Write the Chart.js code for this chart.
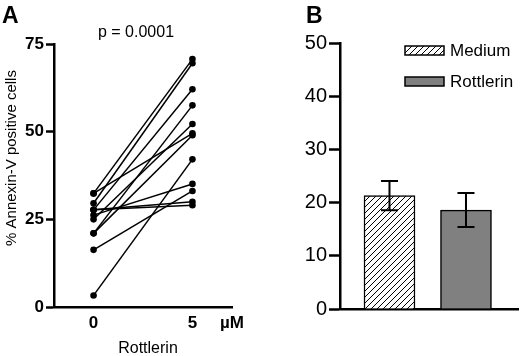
<!DOCTYPE html>
<html>
<head>
<meta charset="utf-8">
<script src="https://cdn.jsdelivr.net/npm/chart.js@4.4.0/dist/chart.umd.min.js"></script>
<style>
    html, body { margin: 0; padding: 0; background: #fff; }
    #wrap { position: relative; width: 520px; height: 356px; overflow: hidden; }
    canvas { position: absolute; top: 0; }
    #chart-a { left: 0; }
    #chart-b { left: 260px; }
</style>
</head>
<body>
<div id="wrap">
    <canvas id="chart-a" width="260" height="356"></canvas>
    <canvas id="chart-b" width="260" height="356"></canvas>
</div>
<script>
// Panel A: % Annexin-V positive cells, paired (one line per donor)
const doses = [0, 5];
const doseTickLabels = ["0", "5", "µM"];
const annexinBefore = [32.4, 32.4, 29.6, 27.7, 27.7, 27.7, 26.2, 25.0, 21.0, 21.0, 16.3, 3.3];
const annexinAfter = [49.5, 70.7, 69.5, 62.1, 29.0, 30.0, 35.1, 52.2, 57.5, 49.0, 33.1, 42.1];
const yTicksA = [0, 25, 50, 75];

// Panel B: mean +/- SEM
const groups = ["Medium", "Rottlerin"];
const groupMeans = [21.3, 18.6];
const groupSem = [2.75, 3.2];

const FONT = "Arial, 'Liberation Sans', Helvetica, sans-serif";
Chart.defaults.font.family = FONT;
Chart.defaults.color = "#000";

function hatchPattern() {
    const tile = document.createElement("canvas");
    tile.width = 6;
    tile.height = 6;
    const g = tile.getContext("2d");
    g.fillStyle = "#fff";
    g.fillRect(0, 0, 6, 6);
    g.strokeStyle = "#000";
    g.lineWidth = 1;
    g.beginPath();
    g.moveTo(0, 6); g.lineTo(6, 0);
    g.moveTo(-1, 1); g.lineTo(1, -1);
    g.moveTo(5, 7); g.lineTo(7, 5);
    g.stroke();
    return g.createPattern(tile, "repeat");
}

// text that sits outside the axes in panel A
const panelAText = {
    id: "panelAText",
    afterDraw(chart) {
        const ctx = chart.ctx;
        ctx.save();
        ctx.fillStyle = "#000";
        ctx.font = "bold 23px " + FONT;
        ctx.textAlign = "left";
        ctx.textBaseline = "alphabetic";
        ctx.fillText("A", 2, 23);

        ctx.font = "16px " + FONT;
        ctx.textAlign = "center";
        ctx.textBaseline = "middle";
        ctx.fillText("p = 0.0001", 136, 33);

        ctx.font = "16px " + FONT;
        ctx.fillText("Rottlerin", 148, 349);

        ctx.translate(12, 158);
        ctx.rotate(-Math.PI / 2);
        ctx.font = "15px " + FONT;
        ctx.fillText("% Annexin-V positive cells", 0, 0);
        ctx.restore();
    },
};

const panelBText = {
    id: "panelBText",
    afterDraw(chart) {
        const ctx = chart.ctx;
        ctx.save();
        ctx.fillStyle = "#000";
        ctx.font = "bold 23px " + FONT;
        ctx.textBaseline = "alphabetic";
        ctx.fillText("B", 46, 23);

        // legend
        chart.data.datasets.forEach((ds, i) => {
            const y = 46 + i * 31;
            ctx.fillStyle = ds.backgroundColor;
            ctx.fillRect(145, y, 39, 9);
            ctx.strokeStyle = "#000";
            ctx.lineWidth = 1.5;
            ctx.strokeRect(145, y, 39, 9);
            ctx.fillStyle = "#000";
            ctx.font = "17px " + FONT;
            ctx.textBaseline = "middle";
            ctx.fillText(ds.label, 190, y + 5);
        });
        ctx.restore();
    },
};

const errorBars = {
    id: "errorBars",
    afterDatasetsDraw(chart) {
        const ctx = chart.ctx;
        const yScale = chart.scales.y;
        ctx.save();
        ctx.strokeStyle = "#000";
        ctx.lineWidth = 2;
        chart.data.datasets.forEach((ds, i) => {
            const bar = chart.getDatasetMeta(i).data[0];
            const top = yScale.getPixelForValue(groupMeans[i] + groupSem[i]);
            const bottom = yScale.getPixelForValue(groupMeans[i] - groupSem[i]);
            ctx.beginPath();
            ctx.moveTo(bar.x, top);
            ctx.lineTo(bar.x, bottom);
            ctx.moveTo(bar.x - 8.5, top);
            ctx.lineTo(bar.x + 8.5, top);
            ctx.moveTo(bar.x - 8.5, bottom);
            ctx.lineTo(bar.x + 8.5, bottom);
            ctx.stroke();
        });
        ctx.restore();
    },
};

const pairDatasets = annexinBefore.map((v, i) => ({
    data: [
        { x: doses[0], y: v },
        { x: doses[1], y: annexinAfter[i] },
    ],
    showLine: true,
    borderColor: "#000",
    borderWidth: 1.5,
    backgroundColor: "#000",
    pointRadius: 3.3,
    pointBorderWidth: 0,
}));

new Chart(document.getElementById("chart-a"), {
    type: "scatter",
    data: { datasets: pairDatasets },
    options: {
        responsive: false,
        animation: false,
        layout: { padding: { top: 44, left: 0, right: 28, bottom: 0 } },
        plugins: { legend: { display: false }, tooltip: { enabled: false } },
        scales: {
            x: {
                type: "linear",
                min: -2,
                max: 7,
                afterFit: (scale) => { scale.height = 49; },
                afterBuildTicks: (scale) => {
                    scale.ticks = doses.concat([scale.max]).map((v) => ({ value: v }));
                },
                ticks: {
                    font: { size: 17, weight: "bold" },
                    padding: 6,
                    callback: (v, i) => doseTickLabels[i],
                },
                grid: { drawOnChartArea: false, drawTicks: false },
                border: { display: true, color: "#000", width: 2.5 },
            },
            y: {
                min: 0,
                max: 75,
                afterFit: (scale) => { scale.width = 54; },
                afterBuildTicks: (scale) => {
                    scale.ticks = yTicksA.map((v) => ({ value: v }));
                },
                ticks: { font: { size: 17, weight: "bold" }, padding: 2 },
                grid: {
                    drawOnChartArea: false,
                    drawTicks: true,
                    tickLength: 8,
                    tickWidth: 2.5,
                    tickColor: "#000",
                },
                border: { display: true, color: "#000", width: 2.5 },
            },
        },
    },
    plugins: [panelAText],
});

const barColors = [hatchPattern(), "#808080"];

new Chart(document.getElementById("chart-b"), {
    type: "bar",
    data: {
        datasets: groups.map((name, i) => ({
            label: name,
            data: [{ x: i + 1, y: groupMeans[i] }],
            backgroundColor: barColors[i],
            borderColor: "#000",
            borderWidth: 1.5,
            borderSkipped: "bottom",
            barThickness: 51,
            grouped: false,
        })),
    },
    options: {
        responsive: false,
        animation: false,
        layout: { padding: { top: 43, left: 0, right: 2, bottom: 0 } },
        plugins: { legend: { display: false }, tooltip: { enabled: false } },
        scales: {
            x: {
                type: "linear",
                offset: false,
                min: 0.353,
                max: 2.68,
                afterFit: (scale) => { scale.height = 47; },
                ticks: { display: false },
                grid: { display: false, drawTicks: false },
                border: { display: true, color: "#000", width: 2.5 },
            },
            y: {
                min: 0,
                max: 50,
                afterFit: (scale) => { scale.width = 80; },
                ticks: { stepSize: 10, font: { size: 20 }, padding: 2 },
                grid: {
                    drawOnChartArea: false,
                    drawTicks: true,
                    tickLength: 11,
                    tickWidth: 2.5,
                    tickColor: "#000",
                },
                border: { display: true, color: "#000", width: 2.5 },
            },
        },
    },
    plugins: [errorBars, panelBText],
});
</script>
</body>
</html>
